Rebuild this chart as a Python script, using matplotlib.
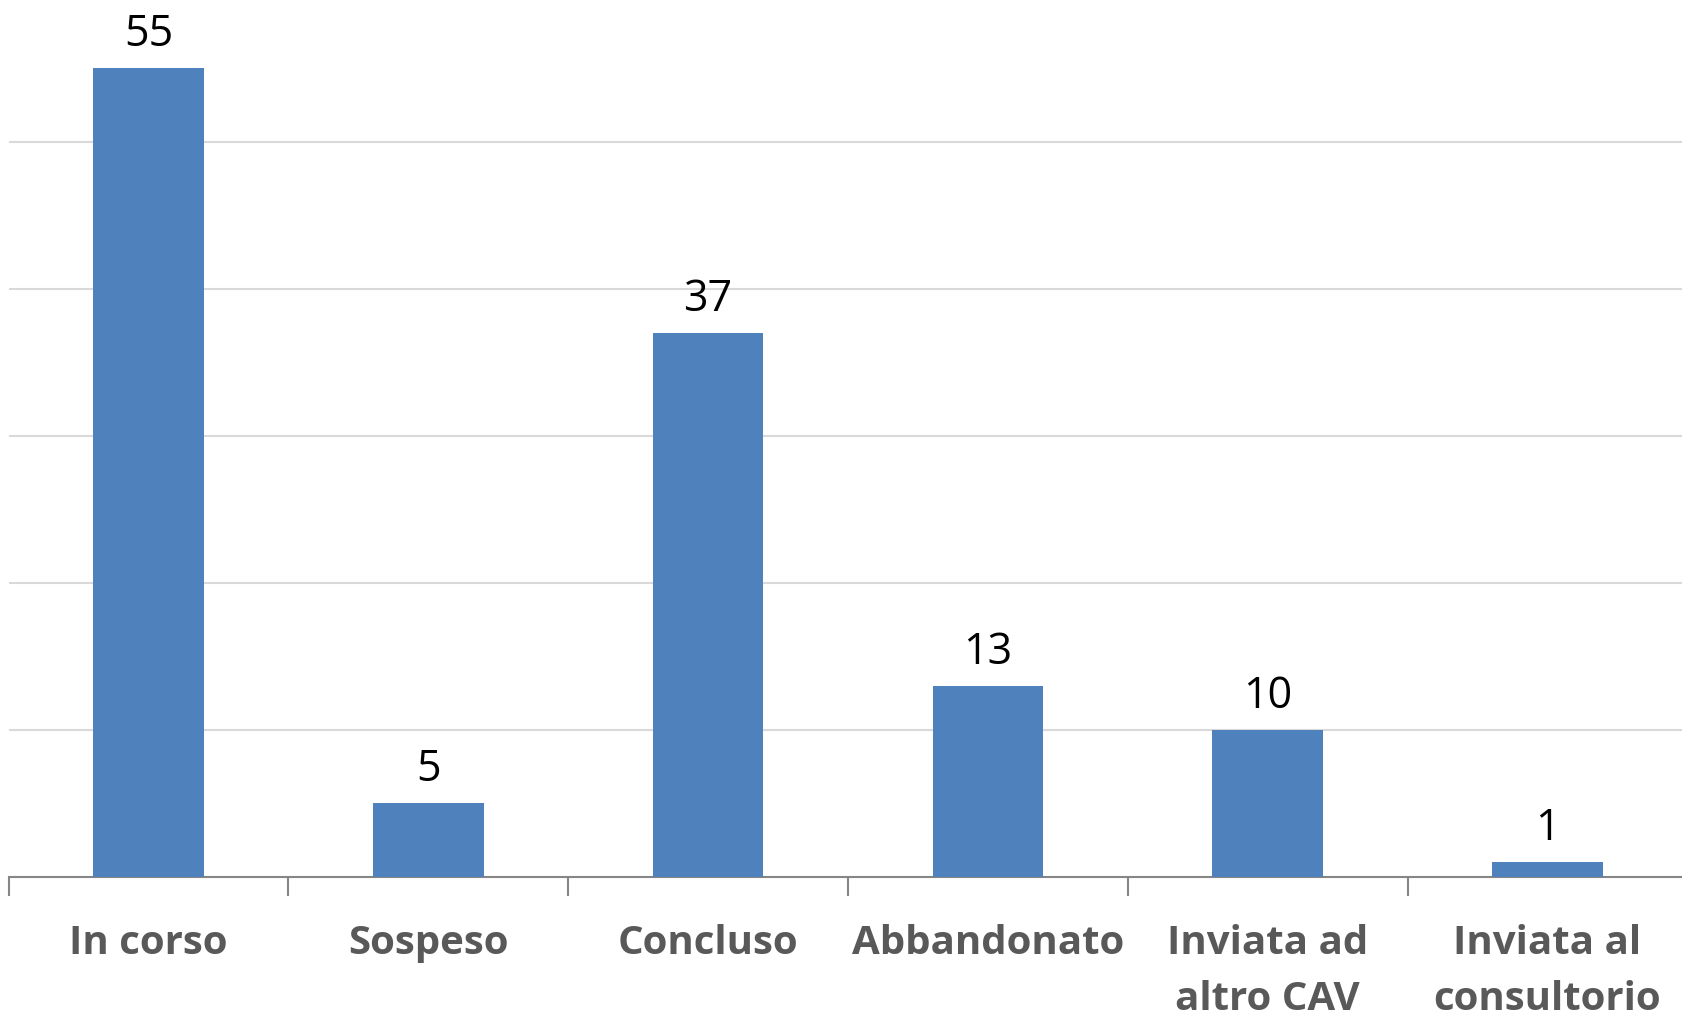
import matplotlib.pyplot as plt
import numpy as np

categories = ['In corso', 'Sospeso', 'Concluso', 'Abbandonato', 'Inviata ad\naltro CAV', 'Inviata al\nconsultorio']
values = [55, 5, 37, 13, 10, 1]

plt.rcParams['font.family'] = ['Open Sans', 'DejaVu Sans']

fig = plt.figure(figsize=(16.83, 10.18), dpi=100)
ax = fig.add_axes([0.0051, 0.1385, 0.9975, 0.8665])

x = np.arange(len(categories))
bars = ax.bar(x, values, width=0.395, color='#4F81BD', zorder=3)

for xi, v in zip(x, values):
    ax.annotate(str(v), (xi, v), xytext=(0, 8), textcoords='offset points',
                ha='center', va='bottom', fontsize=31, color='black')

ax.set_xlim(-0.5, 5.5)
ax.set_ylim(0, 60)
ax.set_yticks([10, 20, 30, 40, 50])
ax.yaxis.grid(True, color='#d9d9d9', linewidth=1.5, zorder=0)
ax.tick_params(axis='y', length=0, labelleft=False)

ax.set_xticks(x)
ax.set_xticklabels(categories, fontsize=29, fontweight='bold', color='#595959', linespacing=1.55)
ax.set_xticks(np.arange(-0.5, 5.5, 1), minor=True)
ax.tick_params(axis='x', which='major', length=0, pad=34)
ax.tick_params(axis='x', which='minor', length=14, width=1.5, color='#868686')

for s in ['top', 'right', 'left']:
    ax.spines[s].set_visible(False)
ax.spines['bottom'].set_color('#868686')
ax.spines['bottom'].set_linewidth(1.5)

fig.savefig('out.png', dpi=100)
